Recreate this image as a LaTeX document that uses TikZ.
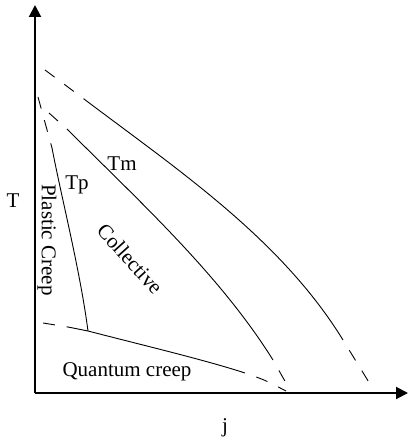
\documentclass[tikz,border=0pt]{standalone}
\usepackage{fontspec}
\setmainfont{Liberation Serif}
\usetikzlibrary{arrows.meta}
\begin{document}
\begin{tikzpicture}[x=0.5pt,y=-0.5pt,
  every node/.style={font=\fontsize{10.5}{12}\selectfont,inner sep=0pt},
  axis/.style={line width=1pt,-{Triangle[length=6pt,width=6pt]}},
  border/.style={line width=0.45pt},
  guess/.style={line width=0.45pt,dash pattern=on 6pt off 6pt},
  guessend/.style={guess,dash phase=6pt}]
  \useasboundingbox (0,0) rectangle (408,443);
  % axes
  \coordinate (O) at (35,393);
  \coordinate (Ttop) at (35,5);
  \coordinate (jend) at (408,393);
  \draw[axis] (O) -- (Ttop);
  \draw[axis] (O) -- (jend);
  \node (Tlab) at (13,201) {T};
  \node (jlab) at (225,428) {j};
  % melting line (outer)
  \coordinate (m0) at (45,70);
  \coordinate (m1) at (84,99);
  \coordinate (m2) at (343,340);
  \coordinate (m3) at (370,384);
  \draw[guess] (m0) -- (m1);
  \draw[border] (m1) .. controls (178,170) and (281,239) .. (m2);
  \draw[guessend] (m2) -- (m3);
  % inner line, labelled Tm
  \coordinate (n0) at (49,113);
  \coordinate (n1) at (68,130);
  \coordinate (n2) at (273,360);
  \coordinate (n3) at (286,383);
  \draw[guess] (n0) -- (n1);
  \draw[border] (n1) .. controls (139,201) and (220,275) .. (n2);
  \draw[guessend] (n2) -- (n3);
  % Tp line
  \coordinate (p0) at (38,97);
  \coordinate (p1) at (52,148);
  \coordinate (J) at (88,331);
  \draw[guess] (p0) -- (p1);
  \draw[border] (p1) .. controls (62,200) and (80,270) .. (J);
  % quantum creep boundary
  \coordinate (q0) at (43,323);
  \coordinate (q1) at (68,327);
  \coordinate (q2) at (245,373);
  \coordinate (q3) at (286,391);
  \draw[guess] (q0) -- (q1);
  \draw[border] (q1) -- (J) .. controls (150,347) and (205,360) .. (q2);
  \draw[guessend] (q2) .. controls (265,380) .. (q3);
  % labels
  \node (tm) at (122,164) {Tm};
  \node (tp) at (77,185) {Tp};
  \node[rotate=-90] (plastic) at (47,240) {Plastic Creep};
  \node[rotate=-48] (collective) at (130,259) {Collective};
  \node (quantum) at (127,372) {Quantum creep};
\end{tikzpicture}
\end{document}
